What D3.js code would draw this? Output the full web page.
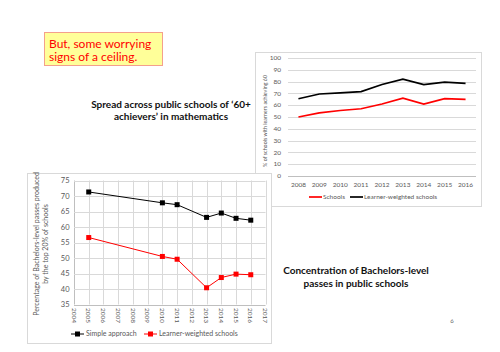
<!DOCTYPE html>
<html>
<head>
<meta charset="utf-8">
<script src="https://cdn.jsdelivr.net/npm/d3@7"></script>
<style>
  body { margin: 0; background: #fff; }
  svg text { font-family: Lato, "Open Sans", sans-serif; }
</style>
</head>
<body>
<div id="slide"></div>
<script>
// top-right chart: '60+ achievers' in mathematics
var mathYears = ["2008", "2009", "2010", "2011", "2012", "2013", "2014", "2015", "2016"];
var mathSchools = [50, 53.5, 55.5, 57, 61, 66, 61, 65.5, 65];
var mathLearnerWeighted = [65.5, 69.5, 70.5, 71.5, 77.5, 82, 77.5, 79.5, 78.5];
var mathTicks = [0, 10, 20, 30, 40, 50, 60, 70, 80, 90, 100];

// bottom-left chart: concentration of Bachelors-level passes
var bachYears = [2005, 2010, 2011, 2013, 2014, 2015, 2016];
var bachSimple = [71.3, 67.8, 67.2, 63.1, 64.5, 62.8, 62.2];
var bachLearnerWeighted = [56.6, 50.5, 49.6, 40.4, 43.7, 44.8, 44.6];
var bachTicks = [35, 40, 45, 50, 55, 60, 65, 70, 75];
var bachYearTicks = d3.range(2004, 2018);

var grid = "#d9d9d9", tickColor = "#595959", red = "#ff0000";

var svg = d3.select("#slide").append("svg")
    .attr("width", 500)
    .attr("height", 352);

// callout box
svg.append("rect")
    .attr("x", 44.5).attr("y", 32.5)
    .attr("width", 118).attr("height", 33)
    .attr("fill", "#ffff99")
    .attr("stroke", "#f4a08c")
    .attr("stroke-width", 1);
svg.append("text")
    .attr("x", 49).attr("y", 47.5)
    .style("fill", red).style("font-size", "12px")
    .text("But, some worrying");
svg.append("text")
    .attr("x", 49).attr("y", 61)
    .style("fill", red).style("font-size", "12px")
    .text("signs of a ceiling.");

// titles
[["Spread across public schools of \u201860+", 108], ["achievers\u2019 in mathematics", 120]].forEach(function(t) {
  svg.append("text")
    .attr("x", 171).attr("y", t[1])
    .style("text-anchor", "middle")
    .style("font-weight", "bold")
    .style("font-size", "10px")
    .style("fill", "#111")
    .text(t[0]);
});
[["Concentration of Bachelors-level", 274], ["passes in public schools", 287]].forEach(function(t) {
  svg.append("text")
    .attr("x", 356).attr("y", t[1])
    .style("text-anchor", "middle")
    .style("font-weight", "bold")
    .style("font-size", "10px")
    .style("fill", "#111")
    .text(t[0]);
});
svg.append("text")
    .attr("x", 452).attr("y", 323)
    .style("text-anchor", "middle")
    .style("font-size", "6px")
    .style("fill", "#666")
    .text("6");

// ---------- top-right chart ----------
var topChart = svg.append("g");
topChart.append("rect")
    .attr("x", 255.5).attr("y", 52.5)
    .attr("width", 226).attr("height", 154)
    .attr("fill", "#fff")
    .attr("stroke", grid);

var x1 = d3.scaleBand()
    .domain(mathYears)
    .range([288, 476]);
var y1 = d3.scaleLinear()
    .domain([0, 100])
    .range([176, 58]);

topChart.selectAll("line.grid")
    .data(mathTicks)
  .enter().append("line")
    .attr("class", "grid")
    .attr("x1", 288).attr("x2", 476)
    .attr("y1", function(d) { return Math.round(y1(d)) + 0.5; })
    .attr("y2", function(d) { return Math.round(y1(d)) + 0.5; })
    .style("stroke", function(d) { return d === 0 ? "#bfbfbf" : grid; })
    .style("stroke-width", 1);

topChart.selectAll("text.ytick")
    .data(mathTicks)
  .enter().append("text")
    .attr("class", "ytick")
    .attr("x", 281)
    .attr("y", function(d) { return y1(d); })
    .attr("dy", "0.35em")
    .style("text-anchor", "end")
    .style("font-size", "6.5px")
    .style("fill", tickColor)
    .text(function(d) { return d; });

topChart.selectAll("text.xtick")
    .data(mathYears)
  .enter().append("text")
    .attr("class", "xtick")
    .attr("x", function(d) { return x1(d) + x1.bandwidth() / 2; })
    .attr("y", 186.5)
    .style("text-anchor", "middle")
    .style("font-size", "6.5px")
    .style("fill", tickColor)
    .text(function(d) { return d; });

topChart.append("text")
    .attr("transform", "translate(267,121) rotate(-90)")
    .attr("textLength", 92)
    .attr("lengthAdjust", "spacingAndGlyphs")
    .style("text-anchor", "middle")
    .style("font-size", "6.3px")
    .style("fill", tickColor)
    .text("% of schools with learners achieving 60");

var line1 = d3.line()
    .x(function(d, i) { return x1(mathYears[i]) + x1.bandwidth() / 2; })
    .y(function(d) { return y1(d); });

topChart.append("path")
    .datum(mathSchools)
    .attr("d", line1)
    .attr("fill", "none")
    .attr("stroke", red)
    .attr("stroke-width", 1.7);
topChart.append("path")
    .datum(mathLearnerWeighted)
    .attr("d", line1)
    .attr("fill", "none")
    .attr("stroke", "#000")
    .attr("stroke-width", 1.7);

[["Schools", red, 309], ["Learner-weighted schools", "#000", 350]].forEach(function(l) {
  topChart.append("line")
    .attr("x1", l[2]).attr("x2", l[2] + 13)
    .attr("y1", 197).attr("y2", 197)
    .style("stroke", l[1]).style("stroke-width", 1.7);
  topChart.append("text")
    .attr("x", l[2] + 14).attr("y", 197)
    .attr("dy", "0.35em")
    .style("font-size", "6.5px")
    .style("fill", tickColor)
    .text(l[0]);
});

// ---------- bottom-left chart ----------
var bot = svg.append("g");
bot.append("rect")
    .attr("x", 27.5).attr("y", 173.5)
    .attr("width", 244).attr("height", 170)
    .attr("fill", "#fff")
    .attr("stroke", grid);

var x2 = d3.scaleLinear()
    .domain([2004, 2017])
    .range([74, 265.5]);
var y2 = d3.scaleLinear()
    .domain([35, 75])
    .range([304.5, 180.5]);

bot.selectAll("line.vgrid")
    .data(bachYearTicks)
  .enter().append("line")
    .attr("class", "vgrid")
    .attr("x1", function(d) { return Math.round(x2(d)) + 0.5; })
    .attr("x2", function(d) { return Math.round(x2(d)) + 0.5; })
    .attr("y1", y2(75)).attr("y2", y2(35))
    .style("stroke", function(d) { return d === 2004 ? "#bfbfbf" : grid; });

bot.selectAll("line.hgrid")
    .data(bachTicks)
  .enter().append("line")
    .attr("class", "hgrid")
    .attr("x1", x2(2004)).attr("x2", x2(2017))
    .attr("y1", function(d) { return Math.round(y2(d)) + 0.5; })
    .attr("y2", function(d) { return Math.round(y2(d)) + 0.5; })
    .style("stroke", function(d) { return d === 35 ? "#bfbfbf" : grid; });

bot.selectAll("text.ytick")
    .data(bachTicks)
  .enter().append("text")
    .attr("class", "ytick")
    .attr("x", 69.5)
    .attr("y", function(d) { return y2(d); })
    .attr("dy", "0.35em")
    .style("text-anchor", "end")
    .style("font-size", "7.5px")
    .style("fill", tickColor)
    .text(function(d) { return d; });

bot.selectAll("text.xtick")
    .data(bachYearTicks)
  .enter().append("text")
    .attr("class", "xtick")
    .attr("transform", function(d) { return "translate(" + x2(d) + ",308) rotate(90)"; })
    .attr("dy", "0.35em")
    .style("text-anchor", "start")
    .style("font-size", "6.5px")
    .style("fill", tickColor)
    .text(function(d) { return d; });

[["Percentage of Bachelors-level passes produced", 39], ["by the top 20% of schools", 48]].forEach(function(t) {
  bot.append("text")
    .attr("transform", "translate(" + t[1] + ",244) rotate(-90)")
    .style("text-anchor", "middle")
    .style("font-size", "7px")
    .style("fill", tickColor)
    .text(t[0]);
});

var line2 = d3.line()
    .x(function(d, i) { return x2(bachYears[i]); })
    .y(function(d) { return y2(d); });

[[bachSimple, "#000"], [bachLearnerWeighted, red]].forEach(function(s) {
  bot.append("path")
    .datum(s[0])
    .attr("d", line2)
    .attr("fill", "none")
    .attr("stroke", s[1])
    .attr("stroke-width", 1);
  bot.selectAll(null)
    .data(s[0])
  .enter().append("rect")
    .attr("x", function(d, i) { return x2(bachYears[i]) - 2.5; })
    .attr("y", function(d) { return y2(d) - 2.5; })
    .attr("width", 5).attr("height", 5)
    .attr("fill", s[1]);
});

[["Simple approach", "#000", 71], ["Learner-weighted schools", red, 144]].forEach(function(l) {
  bot.append("line")
    .attr("x1", l[2]).attr("x2", l[2] + 13)
    .attr("y1", 334).attr("y2", 334)
    .style("stroke", l[1]).style("stroke-width", 1);
  bot.append("rect")
    .attr("x", l[2] + 4).attr("y", 331.5)
    .attr("width", 5).attr("height", 5)
    .attr("fill", l[1]);
  bot.append("text")
    .attr("x", l[2] + 15).attr("y", 334)
    .attr("dy", "0.35em")
    .style("font-size", "7px")
    .style("fill", tickColor)
    .text(l[0]);
});
</script>
</body>
</html>
